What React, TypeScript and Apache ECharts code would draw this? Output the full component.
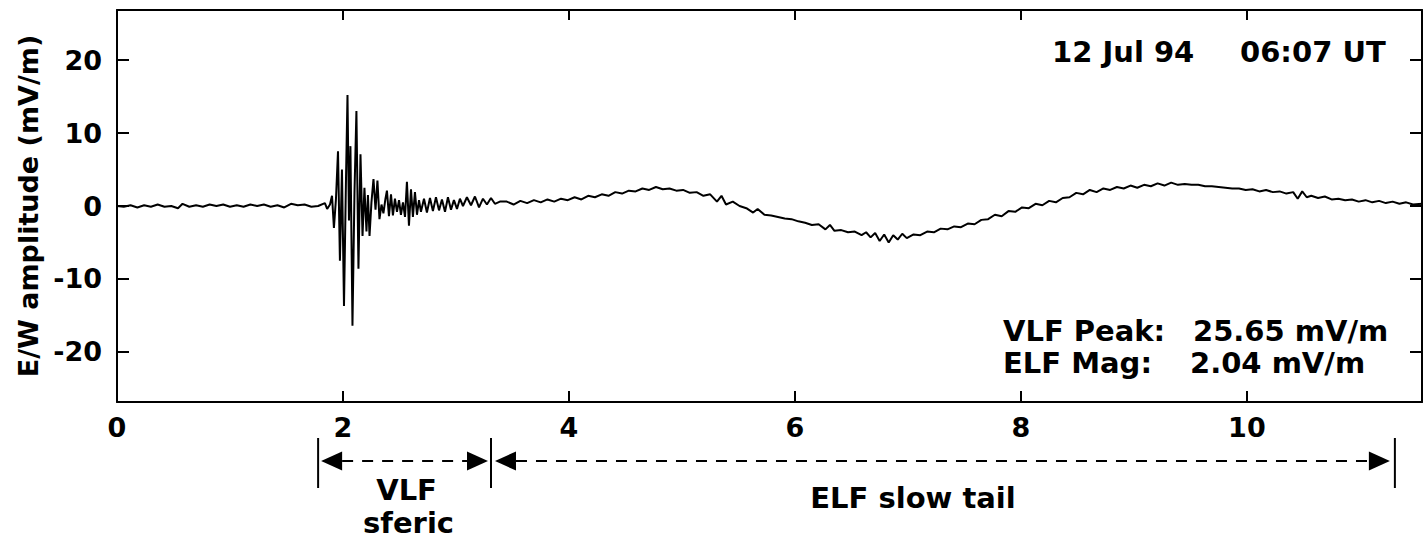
import React, { useEffect, useRef } from "react";
import * as echarts from "echarts";

// Time in seconds, amplitude in mV/m
const quietTimes = [0.0, 0.06, 0.12, 0.18, 0.24, 0.3, 0.36, 0.42, 0.48, 0.54, 0.58, 0.64, 0.7, 0.76, 0.82, 0.88, 0.94, 1.0, 1.06, 1.12, 1.18, 1.24, 1.3, 1.36, 1.42, 1.48, 1.54, 1.6, 1.66, 1.72, 1.78, 1.84, 1.86];
const quietAmps = [0.0, -0.1, 0.1, -0.2, 0.1, -0.1, 0.2, -0.1, 0.0, -0.3, 0.3, -0.1, 0.1, -0.1, 0.2, 0.0, 0.2, -0.1, 0.1, -0.1, 0.2, 0.0, 0.2, -0.1, 0.1, -0.2, 0.3, 0.1, 0.2, -0.1, 0.0, 0.4, -0.4];

const sfericTimes = [1.885, 1.903, 1.92, 1.938, 1.956, 1.973, 1.991, 2.009, 2.027, 2.04, 2.053, 2.066, 2.084, 2.102, 2.119, 2.137, 2.155, 2.173, 2.19, 2.208, 2.221, 2.235, 2.252, 2.27, 2.288, 2.305, 2.323, 2.341, 2.358, 2.376, 2.389, 2.407, 2.425, 2.442, 2.46, 2.478, 2.496, 2.513, 2.531, 2.549, 2.566, 2.584, 2.602, 2.619, 2.637, 2.655, 2.673, 2.69, 2.717, 2.743, 2.77, 2.796, 2.823, 2.85, 2.876, 2.903, 2.929, 2.956, 2.982, 3.009, 3.035, 3.062, 3.097, 3.133, 3.168, 3.204, 3.239, 3.274, 3.31, 3.345, 3.389];
const sfericAmps = [0.2, 1.4, -3.0, 1.0, 7.5, -7.5, 5.0, -13.7, 4.0, 15.2, -2.0, 8.2, -16.4, 2.0, 13.0, -8.6, 7.1, -4.1, 2.5, -3.5, 1.5, -4.1, 0.5, 3.7, -0.5, 3.5, -1.8, 0.2, -1.0, 1.0, 2.1, -1.4, 1.6, -1.3, 1.0, -0.8, 0.8, -1.2, 0.5, -1.5, 3.3, -2.7, 2.3, -1.5, 1.9, -1.2, 0.8, -0.8, 1.0, -0.9, 1.1, -0.7, 1.2, -0.6, 0.9, -0.8, 1.2, -0.5, 0.8, -0.4, 1.0, 0.0, 1.2, 0.1, 1.3, -0.2, 1.0, 0.2, 1.1, 0.3, 0.6];

const tailTimes = [3.45, 3.51, 3.57, 3.63, 3.69, 3.75, 3.81, 3.87, 3.93, 3.99, 4.05, 4.11, 4.17, 4.23, 4.29, 4.35, 4.41, 4.47, 4.53, 4.59, 4.65, 4.71, 4.77, 4.83, 4.89, 4.95, 5.01, 5.07, 5.13, 5.19, 5.25, 5.31, 5.35, 5.39, 5.45, 5.51, 5.57, 5.63, 5.67, 5.73, 5.79, 5.85, 5.91, 5.97, 6.03, 6.09, 6.15, 6.21, 6.27, 6.31, 6.35, 6.41, 6.47, 6.53, 6.59, 6.63, 6.67, 6.71, 6.75, 6.79, 6.83, 6.87, 6.91, 6.95, 6.99, 7.05, 7.11, 7.17, 7.23, 7.29, 7.35, 7.41, 7.47, 7.53, 7.59, 7.65, 7.71, 7.77, 7.83, 7.89, 7.95, 8.01, 8.07, 8.13, 8.19, 8.25, 8.31, 8.37, 8.43, 8.49, 8.55, 8.61, 8.67, 8.73, 8.79, 8.85, 8.91, 8.97, 9.03, 9.09, 9.15, 9.21, 9.27, 9.33, 9.39, 9.45, 9.51, 9.57, 9.63, 9.69, 9.75, 9.81, 9.87, 9.93, 9.99, 10.05, 10.11, 10.17, 10.23, 10.29, 10.35, 10.41, 10.45, 10.49, 10.53, 10.57, 10.63, 10.69, 10.75, 10.81, 10.87, 10.93, 10.99, 11.05, 11.11, 11.17, 11.23, 11.29, 11.35, 11.41, 11.47, 11.55];
const tailAmps = [0.6, 0.2, 0.7, 0.4, 0.8, 0.5, 0.9, 0.6, 1.0, 0.8, 1.2, 0.9, 1.4, 1.2, 1.6, 1.4, 1.9, 1.7, 2.1, 2.0, 2.4, 2.2, 2.6, 2.3, 2.4, 2.1, 2.2, 1.8, 1.9, 1.4, 1.6, 0.6, 1.4, 0.2, 0.6, 0.0, -0.3, -0.9, -0.4, -1.2, -1.3, -1.5, -1.7, -1.8, -2.1, -2.3, -2.6, -2.5, -3.2, -2.6, -3.4, -3.3, -3.6, -3.5, -4.0, -3.6, -4.3, -3.7, -4.8, -3.9, -5.0, -4.0, -4.6, -3.8, -4.4, -3.9, -4.0, -3.5, -3.6, -3.1, -3.2, -2.8, -2.9, -2.4, -2.5, -1.9, -1.8, -1.2, -1.4, -0.7, -0.8, -0.2, -0.3, 0.3, 0.1, 0.7, 0.5, 1.1, 1.2, 1.8, 1.6, 2.2, 1.9, 2.4, 2.2, 2.6, 2.4, 2.8, 2.5, 2.9, 2.7, 3.1, 2.8, 3.2, 2.9, 3.0, 2.9, 2.9, 2.7, 2.7, 2.6, 2.5, 2.4, 2.4, 2.2, 2.3, 2.0, 2.2, 1.9, 2.0, 1.7, 1.9, 1.0, 2.0, 1.2, 1.4, 1.1, 1.3, 0.9, 1.0, 0.8, 0.9, 0.6, 0.8, 0.5, 0.7, 0.4, 0.6, 0.3, 0.5, 0.2, 0.3];

const xTicks = [0, 2, 4, 6, 8, 10];
const yTicks = [-20, -10, 0, 10, 20];
const xRange = [0, 11.55];
const yRange = [-26.85, 26.85];

const yAxisTitle = "E/W amplitude (mV/m)";
const dateText = "12 Jul 94";
const timeText = "06:07 UT";
const peakLabel = "VLF Peak:";
const peakValue = "25.65 mV/m";
const magLabel = "ELF Mag:";
const magValue = "2.04 mV/m";
const vlfSpan = [1.78, 3.31];
const elfSpan = [3.31, 11.31];

const FONT = "'DejaVu Sans'";

export default function App() {
  const ref = useRef<HTMLDivElement>(null);
  useEffect(() => {
    const chart = echarts.init(ref.current!, null, { renderer: "svg" });
    const times = [...quietTimes, ...sfericTimes, ...tailTimes];
    const amps = [...quietAmps, ...sfericAmps, ...tailAmps];
    const data = times.map((t, i) => [t, amps[i]]);
    const axisLine = { show: true, onZero: false, lineStyle: { color: "#000", width: 2 } };
    const tickStyle = { color: "#000", width: 2 };
    const lbl = { color: "#000", fontFamily: FONT, fontWeight: "bold", fontSize: 27 };
    chart.setOption({
      animation: false,
      backgroundColor: "#fff",
      grid: { left: 117, top: 10, right: 2, bottom: 137 },
      xAxis: [
        {
          type: "value", min: xRange[0], max: xRange[1], position: "bottom",
          axisLine, splitLine: { show: false },
          axisTick: { show: true, inside: true, length: 11, customValues: xTicks, lineStyle: tickStyle },
          axisLabel: { show: true, customValues: xTicks, margin: 12, ...lbl },
        },
        {
          type: "value", min: xRange[0], max: xRange[1], position: "top",
          axisLine, splitLine: { show: false },
          axisTick: { show: true, inside: true, length: 10, customValues: xTicks, lineStyle: tickStyle },
          axisLabel: { show: false },
        },
      ],
      yAxis: [
        {
          type: "value", min: yRange[0], max: yRange[1], position: "left",
          axisLine, splitLine: { show: false },
          axisTick: { show: true, inside: true, length: 12, customValues: yTicks, lineStyle: tickStyle },
          axisLabel: { show: true, customValues: yTicks, margin: 15, ...lbl },
        },
        {
          type: "value", min: yRange[0], max: yRange[1], position: "right",
          axisLine, splitLine: { show: false },
          axisTick: { show: true, inside: true, length: 12, customValues: yTicks, lineStyle: tickStyle },
          axisLabel: { show: false },
        },
      ],
      series: [
        {
          type: "line", data, xAxisIndex: 0, yAxisIndex: 0,
          symbol: "none", showSymbol: false, clip: true,
          lineStyle: { color: "#000", width: 2 },
        },
      ],
    });

    const px = (t: number) => chart.convertToPixel({ xAxisIndex: 0 }, t) as number;
    const f = (s: number) => `bold ${s}px ${FONT}`;
    const txt = (text: string, x: number, y: number, size: number, align = "left", extra: any = {}) => ({
      type: "text", x, y, ...extra,
      style: { text, fill: "#000", font: f(size), textAlign: align, textVerticalAlign: "middle" },
    });
    const arrowY = 461;
    const barTop = 438, barBot = 488;
    const head = 21, half = 9.5;
    const a0 = px(vlfSpan[0]), a1 = px(vlfSpan[1]), b1 = px(elfSpan[1]);
    const b0 = a1;
    const lineEl = (x1: number, y1: number, x2: number, y2: number, dash?: number[]) => ({
      type: "line", shape: { x1, y1, x2, y2 },
      style: { stroke: "#000", lineWidth: 2, lineDash: dash },
    });
    const tri = (points: number[][]) => ({ type: "polygon", shape: { points }, style: { fill: "#000" } });
    const graphic: any[] = [
      txt(yAxisTitle, 28, 206, 27, "center", { rotation: Math.PI / 2 }),
      txt(dateText, 1052, 52, 29),
      txt(timeText, 1240, 52, 29),
      txt(peakLabel, 1003, 331, 29),
      txt(peakValue, 1193, 331, 29),
      txt(magLabel, 1003, 363, 29),
      txt(magValue, 1190, 363, 29),
      // VLF sferic bracket
      lineEl(a0, barTop, a0, barBot),
      lineEl(a1, barTop, a1, barBot),
      tri([[a0 + 3, arrowY], [a0 + 3 + head, arrowY - half], [a0 + 3 + head, arrowY + half]]),
      tri([[a1 - 3, arrowY], [a1 - 3 - head, arrowY - half], [a1 - 3 - head, arrowY + half]]),
      lineEl(a0 + 3 + head, arrowY, a1 - 3 - head, arrowY, [11, 9]),
      // ELF slow tail bracket
      lineEl(b1, barTop, b1, barBot),
      tri([[b0 + 4, arrowY], [b0 + 4 + head, arrowY - half], [b0 + 4 + head, arrowY + half]]),
      tri([[b1 - 5, arrowY], [b1 - 5 - head, arrowY - half], [b1 - 5 - head, arrowY + half]]),
      lineEl(b0 + 4 + head, arrowY, b1 - 5 - head, arrowY, [11, 9]),
      txt("VLF", (a0 + a1) / 2 + 2, 490, 29, "center"),
      txt("sferic", (a0 + a1) / 2 + 4, 523, 29, "center"),
      txt("ELF slow tail", 913, 498, 29, "center"),
    ];
    chart.setOption({ graphic });
    return () => chart.dispose();
  }, []);
  return (
    <div
      ref={ref}
      style={{ position: "fixed", left: 0, top: 0, width: 1424, height: 539, background: "#fff" }}
    />
  );
}
